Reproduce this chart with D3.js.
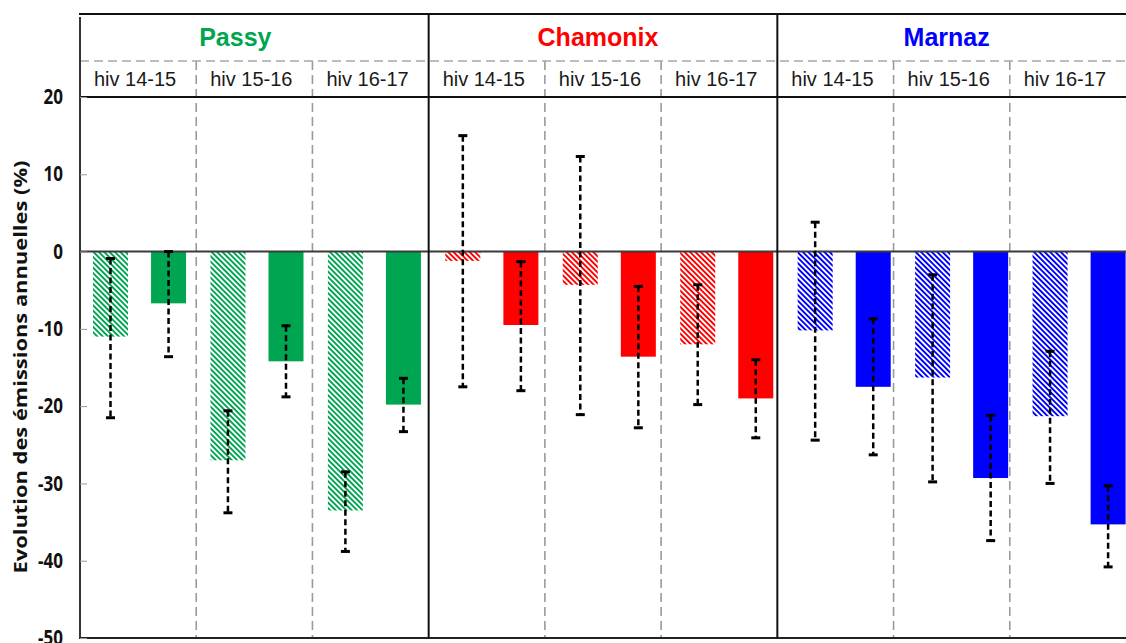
<!DOCTYPE html>
<html>
<head>
<meta charset="utf-8">
<script src="https://cdn.jsdelivr.net/npm/d3@7"></script>
<style>
  html, body { margin: 0; padding: 0; background: #fff; }
  svg { display: block; }
</style>
</head>
<body>
<svg id="chart" width="1126" height="643"></svg>
<script>
// ---------- DATA ----------
const groups = ["Passy", "Chamonix", "Marnaz"];
const seasons = ["hiv 14-15", "hiv 15-16", "hiv 16-17"];
// hatched bars (per group, per season)
const hatchedValues  = [-11.0, -27.0, -33.5,  -1.2,  -4.3, -12.0, -10.2, -16.3, -21.3];
const hatchedErrHigh = [ -0.9, -20.6, -28.5,  15.0,  12.3,  -4.3,   3.8,  -3.0, -12.9];
const hatchedErrLow  = [-21.5, -33.8, -38.8, -17.5, -21.1, -19.8, -24.4, -29.8, -30.0];
// solid bars
const solidValues    = [ -6.7, -14.2, -19.8,  -9.5, -13.6, -19.0, -17.5, -29.3, -35.3];
const solidErrHigh   = [  0.0,  -9.6, -16.4,  -1.3,  -4.5, -14.0,  -8.7, -21.2, -30.3];
const solidErrLow    = [-13.6, -18.8, -23.3, -18.0, -22.8, -24.1, -26.3, -37.4, -40.8];
const yTicks = [20, 10, 0, -10, -20, -30, -40, -50];
const yLabel = "Evolution des émissions annuelles  (%)";

// ---------- LAYOUT ----------
const groupColors = ["#00A551", "#FF0000", "#0000FF"];
const svg = d3.select("#chart");
svg.append("rect").attr("width", 1126).attr("height", 643).attr("fill", "#fff");

const keys = [];
groups.forEach((g, gi) => seasons.forEach((s, si) => keys.push({ g, gi, s, si, key: g + "|" + s })));
const keyNames = keys.map(k => k.key);

const yTop = 14, yDash = 61, plotTop = 97, plotBottom = 638, xLeft = 80, xRight = 1126;

const y = d3.scaleLinear().domain([-50, 20]).range([plotBottom, plotTop]);
const xFrame = d3.scaleBand().domain(keyNames).range([xLeft, xRight]);
const xBars = d3.scaleBand().domain(keyNames).range([xLeft, 1137]);
const xInner = d3.scaleBand().domain(["hatched", "solid"]).range([0, xBars.bandwidth()])
  .paddingInner(0.397).paddingOuter(0.21).align(0.533);

// hatch patterns
const defs = svg.append("defs");
groupColors.forEach((c, i) => {
  const p = defs.append("pattern").attr("id", "hatch" + i)
    .attr("patternUnits", "userSpaceOnUse").attr("width", 3.8).attr("height", 10)
    .attr("patternTransform", "rotate(-45)");
  p.append("rect").attr("width", 3.8).attr("height", 10).attr("fill", "#fff");
  p.append("line").attr("x1", 1.9).attr("x2", 1.9).attr("y1", 0).attr("y2", 10)
    .attr("stroke", c).attr("stroke-width", 1.9);
});

// ---------- BARS ----------
const barData = [];
keys.forEach((k, i) => {
  barData.push({ k, type: "hatched", v: hatchedValues[i], hi: hatchedErrHigh[i], lo: hatchedErrLow[i] });
  barData.push({ k, type: "solid", v: solidValues[i], hi: solidErrHigh[i], lo: solidErrLow[i] });
});
const bx = d => xBars(d.k.key) + xInner(d.type);

svg.append("g").selectAll("rect").data(barData).join("rect")
  .attr("x", bx)
  .attr("width", xInner.bandwidth())
  .attr("y", d => y(Math.max(0, d.v)))
  .attr("height", d => Math.abs(y(d.v) - y(0)))
  .attr("fill", d => d.type === "hatched" ? `url(#hatch${d.k.gi})` : groupColors[d.k.gi]);

// ---------- FRAME ----------
const frame = svg.append("g");
// sub dividers (dashed gray)
const subDiv = keys.filter(k => k.si > 0).map(k => xFrame(k.key));
frame.selectAll("line.sub").data(subDiv).join("line").attr("class", "sub")
  .attr("x1", d => d).attr("x2", d => d).attr("y1", yDash).attr("y2", plotBottom)
  .attr("stroke", "#9a9a9a").attr("stroke-width", 1.6).attr("stroke-dasharray", "9,5");
// dashed horizontal in header
frame.append("line").attr("x1", xLeft).attr("x2", xRight).attr("y1", yDash).attr("y2", yDash)
  .attr("stroke", "#a8a8a8").attr("stroke-width", 1.6).attr("stroke-dasharray", "9,5");
// zero line
frame.append("line").attr("x1", xLeft).attr("x2", xRight).attr("y1", y(0)).attr("y2", y(0))
  .attr("stroke", "#3a3a3a").attr("stroke-width", 2);
// top lines
frame.append("line").attr("x1", xLeft - 1).attr("x2", xRight).attr("y1", yTop).attr("y2", yTop)
  .attr("stroke", "#111").attr("stroke-width", 2);
frame.append("line").attr("x1", xLeft - 1).attr("x2", xRight).attr("y1", plotTop).attr("y2", plotTop)
  .attr("stroke", "#111").attr("stroke-width", 2);
frame.append("line").attr("x1", xLeft - 1).attr("x2", xRight).attr("y1", plotBottom).attr("y2", plotBottom)
  .attr("stroke", "#222").attr("stroke-width", 2);
// group dividers
const grpDiv = keys.filter(k => k.si === 0 && k.gi > 0).map(k => xFrame(k.key));
frame.selectAll("line.grp").data(grpDiv).join("line").attr("class", "grp")
  .attr("x1", d => d).attr("x2", d => d).attr("y1", yTop).attr("y2", plotBottom)
  .attr("stroke", "#111").attr("stroke-width", 2);
// y axis line
frame.append("line").attr("x1", xLeft).attr("x2", xLeft).attr("y1", yTop + 3).attr("y2", plotBottom)
  .attr("stroke", "#333").attr("stroke-width", 2);

// ---------- AXIS ----------
const axis = svg.append("g").attr("transform", `translate(${xLeft},0)`)
  .call(d3.axisLeft(y).tickValues(yTicks).tickSize(-7).tickPadding(17).tickFormat(d => String(d)));
axis.select(".domain").remove();
axis.selectAll(".tick line").attr("stroke", "#999");
axis.selectAll(".tick text")
  .attr("font-family", "'Open Sans', sans-serif").attr("font-weight", "bold")
  .attr("font-size", 17).attr("fill", "#111")
  .attr("transform", "scale(1,1.22)");

svg.append("text")
  .attr("transform", `translate(27,367) rotate(-90)`)
  .attr("text-anchor", "middle")
  .attr("font-family", "'Open Sans', sans-serif").attr("font-weight", "bold")
  .attr("font-size", 17).attr("fill", "#111")
  .attr("textLength", 413).attr("lengthAdjust", "spacingAndGlyphs")
  .text(yLabel);

// ---------- HEADER TEXT ----------
svg.append("g").selectAll("text").data(keys).join("text")
  .attr("x", d => xFrame(d.key) + xFrame.bandwidth() / 2 - 3)
  .attr("y", 86)
  .attr("text-anchor", "middle")
  .attr("font-family", "'Liberation Sans', Arial, sans-serif")
  .attr("font-size", 20).attr("fill", "#1a1a1a")
  .text(d => d.s);

svg.append("g").selectAll("text").data(groups).join("text")
  .attr("x", (g, i) => xFrame(g + "|" + seasons[1]) + xFrame.bandwidth() / 2 + (i === 0 ? -19 : -5))
  .attr("y", 46)
  .attr("text-anchor", "middle")
  .attr("font-family", "'Liberation Sans', Arial, sans-serif")
  .attr("font-weight", "bold").attr("font-size", 25)
  .attr("fill", (g, i) => groupColors[i])
  .text(g => g);

// ---------- ERROR BARS ----------
const eg = svg.append("g");
const cx = d => bx(d) + xInner.bandwidth() / 2;
eg.selectAll("line.err").data(barData).join("line").attr("class", "err")
  .attr("x1", cx).attr("x2", cx)
  .attr("y1", d => y(d.hi)).attr("y2", d => y(d.lo))
  .attr("stroke", "#000").attr("stroke-width", 2.5).attr("stroke-dasharray", "6,3.5");
["hi", "lo"].forEach(f => {
  eg.selectAll("line.cap" + f).data(barData).join("line").attr("class", "cap" + f)
    .attr("x1", d => cx(d) - 4.5).attr("x2", d => cx(d) + 4.5)
    .attr("y1", d => y(d[f])).attr("y2", d => y(d[f]))
    .attr("stroke", "#000").attr("stroke-width", 3);
});
</script>
</body>
</html>
